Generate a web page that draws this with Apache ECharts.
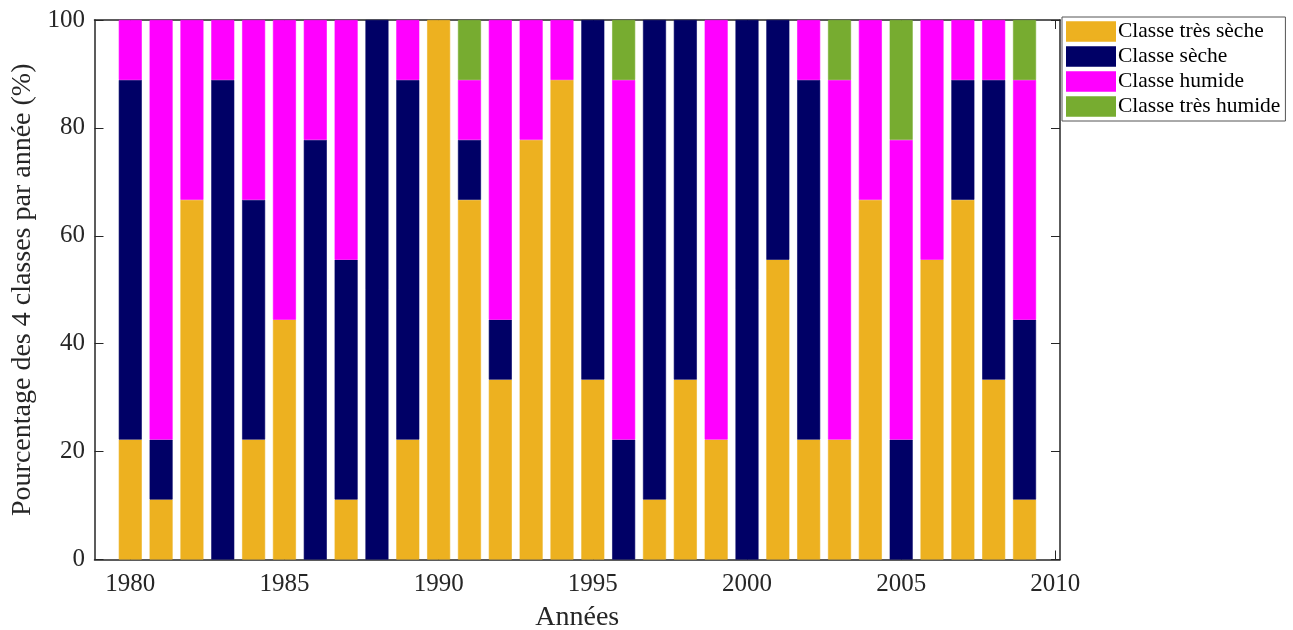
<!DOCTYPE html>
<html>
<head>
<meta charset="utf-8">
<script src="https://cdn.jsdelivr.net/npm/echarts@6/dist/echarts.min.js"></script>
<style>
html,body{margin:0;padding:0;background:#fff;}
#chart{width:1293px;height:630px;}
</style>
</head>
<body>
<div id="chart"></div>
<script>
// Data: number of months (out of 9) in each class per year
const years = [1980,1981,1982,1983,1984,1985,1986,1987,1988,1989,1990,1991,1992,1993,1994,1995,1996,1997,1998,1999,2000,2001,2002,2003,2004,2005,2006,2007,2008,2009];
const tresSeche  = [2,1,6,0,2,4,0,1,0,2,9,6,3,7,8,3,0,1,3,2,0,5,2,2,6,0,5,6,3,1];
const seche      = [6,1,0,8,4,0,7,4,9,6,0,1,1,0,0,6,2,8,6,0,9,4,6,0,0,2,0,2,5,3];
const humide     = [1,7,3,1,3,5,2,4,0,1,0,1,5,2,1,0,6,0,0,7,0,0,1,6,3,5,4,1,1,4];
const tresHumide = [0,0,0,0,0,0,0,0,0,0,0,1,0,0,0,0,1,0,0,0,0,0,0,1,0,2,0,0,0,1];
const seriesNames = ['Classe très sèche','Classe sèche','Classe humide','Classe très humide'];
const xTicks = [1980,1985,1990,1995,2000,2005,2010];

const colors = ['#EDB120','#000066','#FF00FF','#77AC30'];
const font = '"Liberation Serif","Times New Roman",serif';
const classes = [tresSeche, seche, humide, tresHumide];
const toPct = c => c * 100 / 9;

// Stacked bars on a numeric year axis: value in column 0 so it is the stacked dimension.
const series = classes.map((arr, i) => ({
  name: seriesNames[i],
  type: 'bar',
  stack: 'total',
  barWidth: 23,
  encode: { x: 1, y: 0 },
  itemStyle: { color: colors[i], borderColor: colors[i], borderWidth: 0.6 },
  data: arr.map((c, j) => c === 0
    ? { value: [toPct(c), years[j]], itemStyle: { borderWidth: 0 } }
    : [toPct(c), years[j]])
}));

const chart = echarts.init(document.getElementById('chart'), null, {renderer: 'canvas'});
const xMin = 1978.84, xMax = 2010.15;
const axisCol = '#262626';
chart.setOption({
  animation: false,
  backgroundColor: '#fff',
  textStyle: { fontFamily: font },
  grid: { left: 94.5, right: 233, top: 20, bottom: 70.5, containLabel: false, outerBoundsMode: 'none' },
  legend: {
    orient: 'vertical',
    left: 1062, top: 17,
    itemWidth: 48, itemHeight: 18.5, itemGap: 3,
    padding: [3.5, 5, 3.5, 4],
    borderColor: '#555', borderWidth: 1,
    textStyle: { fontFamily: font, fontSize: 21.5, color: '#000', padding: [0,0,0,-2] },
    data: seriesNames,
    icon: 'rect'
  },
  xAxis: [{
    type: 'value', min: xMin, max: xMax, position: 'bottom',
    name: 'Années', nameLocation: 'middle', nameGap: 44,
    nameTextStyle: { fontFamily: font, fontSize: 28, color: axisCol },
    axisLine: { show: true, onZero: false, lineStyle: { color: axisCol, width: 1.5 } },
    axisTick: { show: true, inside: true, length: 9, customValues: xTicks, lineStyle: { color: axisCol } },
    axisLabel: { customValues: xTicks, formatter: v => String(Math.round(v)), fontFamily: font, fontSize: 25, color: axisCol, margin: 12 },
    splitLine: { show: false }
  }, {
    type: 'value', min: xMin, max: xMax, position: 'top',
    axisLine: { show: true, onZero: false, lineStyle: { color: axisCol, width: 1.5 } },
    axisTick: { show: true, inside: true, length: 9, customValues: xTicks, lineStyle: { color: axisCol } },
    axisLabel: { show: false },
    splitLine: { show: false }
  }],
  yAxis: [{
    type: 'value', min: 0, max: 100, interval: 20, position: 'left',
    name: 'Pourcentage des 4 classes par année (%)', nameLocation: 'middle', nameGap: 56,
    nameTextStyle: { fontFamily: font, fontSize: 28, color: axisCol },
    axisLine: { show: true, onZero: false, lineStyle: { color: axisCol, width: 1.5 } },
    axisTick: { show: true, inside: true, length: 9, lineStyle: { color: axisCol } },
    axisLabel: { fontFamily: font, fontSize: 25, color: axisCol, margin: 9.5 },
    splitLine: { show: false }
  }, {
    type: 'value', min: 0, max: 100, interval: 20, position: 'right',
    axisLine: { show: true, onZero: false, lineStyle: { color: axisCol, width: 1.5 } },
    axisTick: { show: true, inside: true, length: 9, lineStyle: { color: axisCol } },
    axisLabel: { show: false },
    splitLine: { show: false }
  }],
  series: series
});
</script>
</body>
</html>
